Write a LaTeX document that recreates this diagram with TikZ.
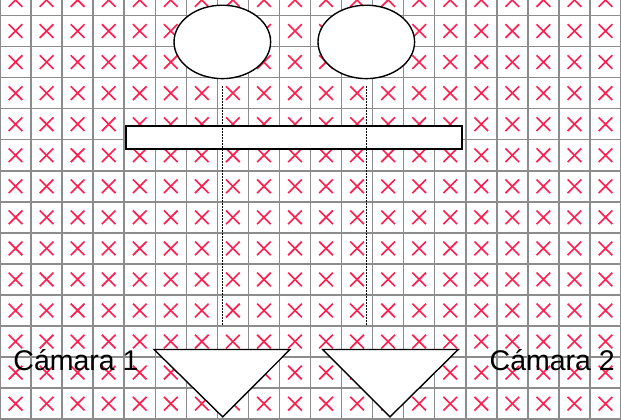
\documentclass[tikz,border=0pt]{standalone}
\usepackage{fontspec}
\setmainfont{Liberation Sans}
\usetikzlibrary{shapes.geometric}
\definecolor{xred}{RGB}{255,30,80}
\definecolor{gridgray}{RGB}{140,140,140}
\begin{document}
\begin{tikzpicture}[x=31.05pt,y=31.05pt,
  gridline/.style={draw=gridgray,line width=1.5pt},
  xmark/.style={draw=xred,line width=1.6pt},
  lens/.style={ellipse,draw,fill=white,line width=1.4pt,inner sep=0pt,minimum width=96.6pt,minimum height=73.4pt},
  bar/.style={draw,fill=white,line width=2pt},
  cam/.style={draw,fill=white,line width=1.4pt,line join=miter},
  ray/.style={line width=1.4pt,dash pattern=on 1.4pt off 1.6pt},
  lbl/.style={inner sep=0pt,font=\fontsize{28.5}{30}\selectfont}]
\useasboundingbox (0,0) rectangle (20,13.5);
\fill[white] (0,0) rectangle (20,13.5);
\begin{scope}
\clip (0,0) rectangle (20,13.5);
\foreach \i in {0,...,20} \draw[gridline] (\i,0) -- (\i,13.5);
\foreach \j in {0,...,13} \draw[gridline] (0,\j) -- (20,\j);
\foreach \i in {0,...,19} \foreach \j in {0,...,13} {
  \draw[xmark] (\i+0.28,\j+0.28) -- (\i+0.72,\j+0.72);
  \draw[xmark] (\i+0.28,\j+0.72) -- (\i+0.72,\j+0.28);
}
\end{scope}
% lenses
\node[lens] (e1) at (7.16,12.15) {};
\node[lens] (e2) at (11.797,12.15) {};
% bar
\draw[bar] (4.058,8.696) rectangle (14.889,9.436);
% cameras
\coordinate (t1a) at (4.96,2.245);
\coordinate (t1b) at (9.34,2.245);
\coordinate (t1c) at (7.172,0.074);
\coordinate (t2a) at (10.393,2.245);
\coordinate (t2b) at (14.76,2.245);
\coordinate (t2c) at (12.56,0.074);
\draw[cam] (t1a) -- (t1b) -- (t1c) -- cycle;
\draw[cam] (t2a) -- (t2b) -- (t2c) -- cycle;
% rays
\coordinate (r1) at (7.16,3.027);
\coordinate (r2) at (11.797,3.027);
\draw[ray,shorten <=7pt] (e1.south) -- (r1);
\draw[ray,shorten <=7pt] (e2.south) -- (r2);
% labels
\node[lbl,anchor=base west] (l1) at (0.428,1.578) {Cámara 1};
\node[lbl,anchor=base east] (l2) at (19.807,1.578) {Cámara 2};
\end{tikzpicture}
\end{document}
